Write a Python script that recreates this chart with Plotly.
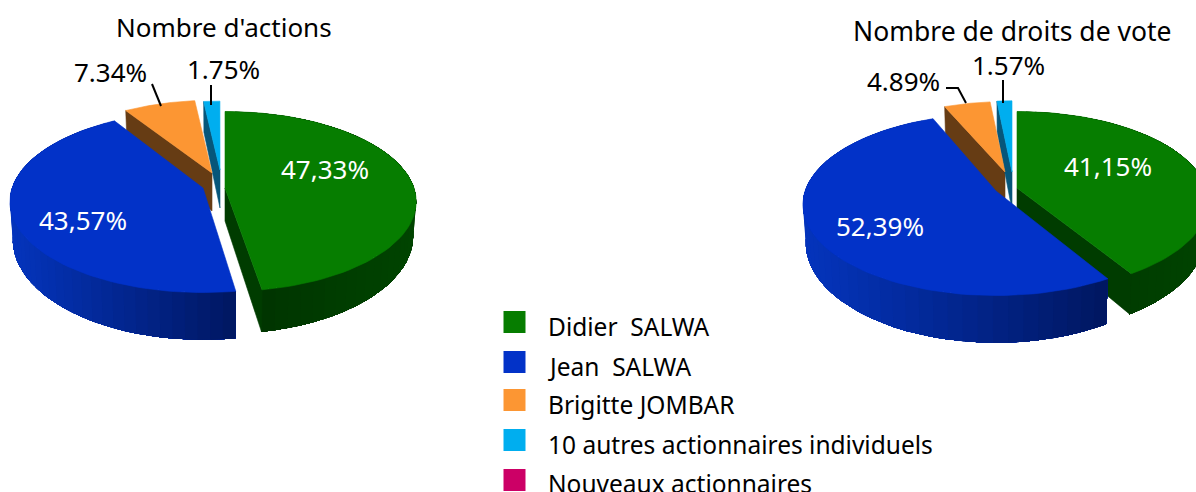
import math
import plotly.graph_objects as go

# ---- data ----
holders = ["Didier  SALWA", "Jean  SALWA", "Brigitte JOMBAR",
           "10 autres actionnaires individuels", "Nouveaux actionnaires"]
actions = [47.33, 43.57, 7.34, 1.75]
votes = [41.15, 52.39, 4.89, 1.57]
actions_labels = ["47,33%", "43,57%", "7.34%", "1.75%"]
votes_labels = ["41,15%", "52,39%", "4.89%", "1.57%"]
titles = ["Nombre d'actions", "Nombre de droits de vote"]

# ---- styles and layout ----
W, H = 1196, 492
FONT = "Noto Sans"
TOP = ["#067d00", "#0232c8", "#fc9633", "#00aeef", "#cc0066"]
WALL = ["#003c00", "#00206e", "#663c14", "#06567a"]
RIM_L = ["#003000", "#0434bc", "#7a4a18", "#06567a"]
RIM_R = ["#004400", "#00165e", "#663c14", "#06567a"]
RX, RY, K = 189, 88, 0.15
TILT = [0.0, math.radians(1.2), 0.0, 0.0]

LEFT = dict(
    apex=[(225, 188), (203, 188), (212, 173), (220, 170)],
    scale=[1.0, 1.01, 0.95, 0.9],
    depth=[33, 37, 38, 38],
    label_xy=[(325, 169), (83, 220), (110, 72), (223, 69)],
    label_color=["white", "white", "black", "black"],
    title_xy=(224, 27), title_size=26,
    leaders=[[(152, 84), (161, 106)], [(211, 85), (211, 105)]],
)
RIGHT = dict(
    apex=[(1017, 188), (996, 191), (1005, 172), (1012, 172)],
    scale=[1.0, 1.01, 0.92, 0.93],
    depth=[33, 37, 38, 38],
    label_xy=[(1108, 166), (880, 226), (903, 81), (1008, 65)],
    label_color=["white", "white", "black", "black"],
    title_xy=(1012, 31), title_size=26.5,
    leaders=[[(946, 88), (958, 88), (966, 103)], [(1003, 80), (1003, 103)]],
)
LEGEND_X, LEGEND_TEXT_X = 514.5, 546
LEGEND_Y = [322, 362, 400, 440, 480]
LEGEND_TEXT_Y = [326, 366, 404, 444, 483]

fig = go.Figure()


def project(ax, ay, s, theta, r=1.0):
    u, v = r * math.sin(theta), r * math.cos(theta)
    w = 1 + K * v
    return ax + s * RX * u / w, ay - s * RY * v / w, w


def bottom(ax, ay, s, d, theta, r=1.0):
    x, y, w = project(ax, ay, s, theta, r)
    return ax + (x - ax) * 0.985, y + d / w ** 1.5


def poly(xs, ys, color, lw=0.6):
    fig.add_trace(go.Scatter(x=xs, y=ys, mode="lines", fill="toself", fillcolor=color,
                             line=dict(color=color, width=lw), hoverinfo="skip",
                             showlegend=False))


def mix(a, b, t):
    pa = [int(a[i:i + 2], 16) for i in (1, 3, 5)]
    pb = [int(b[i:i + 2], 16) for i in (1, 3, 5)]
    return "#%02x%02x%02x" % tuple(round(p + (q - p) * t) for p, q in zip(pa, pb))


def arc(t0, t1, n):
    return [t0 + (t1 - t0) * i / n for i in range(n + 1)]


def wall(cfg, i, theta):
    ax, ay = cfg["apex"][i]
    s, d = cfg["scale"][i], cfg["depth"][i]
    x0, y0, _ = project(ax, ay, s, theta)
    x1, y1 = bottom(ax, ay, s, d, theta)
    x2, y2 = bottom(ax, ay, s, d, theta, 0.0)
    poly([ax, x0, x1, x2, ax], [ay, y0, y1, y2, ay], WALL[i])


def rim(cfg, i, t0, t1):
    # each band is painted from its start to the far end of the arc, so the next
    # band overlaps it and no seam shows between neighbouring colours
    ax, ay = cfg["apex"][i]
    s, d = cfg["scale"][i], cfg["depth"][i]
    ts = arc(t0, t1, 48)
    xs = [project(ax, ay, s, t)[0] for t in ts]
    lo, hi = min(xs), max(xs)
    order = range(len(ts) - 1)
    for k in order:
        seg = ts[k:]
        upper = [project(ax, ay, s, t) for t in seg]
        lower = [bottom(ax, ay, s, d, t) for t in reversed(seg)]
        px = [p[0] for p in upper] + [p[0] for p in lower]
        py = [p[1] for p in upper] + [p[1] for p in lower]
        t = (xs[k] - lo) / (hi - lo)
        poly(px + px[:1], py + py[:1], mix(RIM_L[i], RIM_R[i], t), lw=0)


def rim_rev(cfg, i, t0, t1):
    # same as rim, but running against the arc (for the slice whose colour runs the other way)
    rim(cfg, i, t1, t0)


def top(cfg, i, t0, t1):
    ax, ay = cfg["apex"][i]
    s = cfg["scale"][i]
    pts = [project(ax, ay, s, t) for t in arc(t0, t1, 80)]
    poly([ax] + [p[0] for p in pts] + [ax], [ay] + [p[1] for p in pts] + [ay], TOP[i])


def draw_pie(values, labels, title, cfg):
    edges = [0.0]
    for v in values:
        edges.append(edges[-1] + v / 100 * 2 * math.pi)
    # small back slices first
    for i in (2, 3):
        wall(cfg, i, edges[i])
    for i in (2, 3):
        top(cfg, i, edges[i], edges[i + 1])
    # green
    rim(cfg, 0, edges[0], edges[1])
    wall(cfg, 0, edges[1])
    top(cfg, 0, edges[0], edges[1])
    # blue
    b0, b1 = edges[1] + TILT[1], edges[2] + TILT[1]
    rim_rev(cfg, 1, b0, b1)
    top(cfg, 1, b0, b1)
    for seg in cfg["leaders"]:
        fig.add_trace(go.Scatter(x=[p[0] for p in seg], y=[p[1] for p in seg], mode="lines",
                                 line=dict(color="black", width=2), hoverinfo="skip",
                                 showlegend=False))
    for lab, (x, y), col in zip(labels, cfg["label_xy"], cfg["label_color"]):
        fig.add_annotation(x=x, y=y, text=lab, showarrow=False,
                           font=dict(family=FONT, size=26, color=col))
    fig.add_annotation(x=cfg["title_xy"][0], y=cfg["title_xy"][1], text=title, showarrow=False,
                       font=dict(family=FONT, size=cfg["title_size"], color="black"))


draw_pie(actions, actions_labels, titles[0], LEFT)
draw_pie(votes, votes_labels, titles[1], RIGHT)

# legend
fig.add_trace(go.Scatter(x=[LEGEND_X] * len(holders), y=LEGEND_Y, mode="markers",
                         marker=dict(symbol="square", size=22, color=TOP, line=dict(width=0)),
                         hoverinfo="skip", showlegend=False))
for name, y in zip(holders, LEGEND_TEXT_Y):
    fig.add_annotation(x=LEGEND_TEXT_X, y=y, text=name.replace("  ", "\u00a0 "), showarrow=False,
                       xanchor="left", font=dict(family=FONT, size=24.5, color="black"))

fig.update_layout(
    width=W, height=H, margin=dict(l=0, r=0, t=0, b=0), showlegend=False,
    paper_bgcolor="white", plot_bgcolor="white",
    xaxis=dict(range=[0, W], visible=False, fixedrange=True),
    yaxis=dict(range=[H, 0], visible=False, fixedrange=True),
)
fig.write_html("out.html", config=dict(displayModeBar=False),
               post_script="document.body.style.margin='0';document.body.style.overflow='hidden';")
